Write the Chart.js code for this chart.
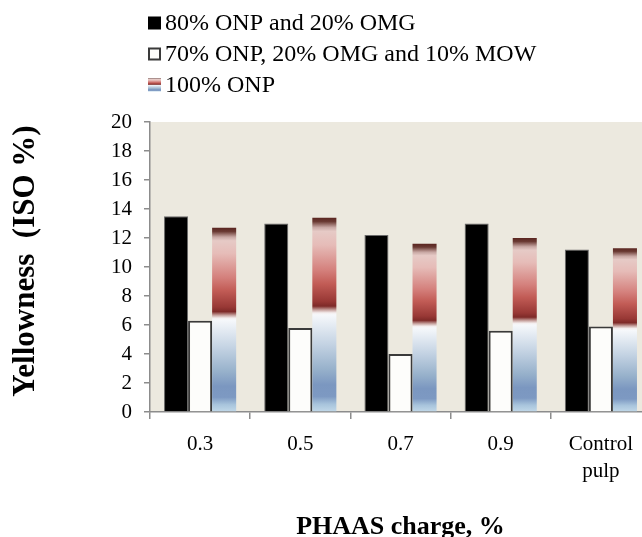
<!DOCTYPE html>
<html>
<head>
<meta charset="utf-8">
<script src="https://cdn.jsdelivr.net/npm/chart.js@4.4.1/dist/chart.umd.min.js"></script>
<style>
  html, body { margin: 0; padding: 0; background: #ffffff; overflow: hidden; }
  #wrap { width: 642px; height: 537px; overflow: hidden; position: relative; }
  canvas { display: block; }
</style>
</head>
<body>
<div id="wrap"><canvas id="chart" width="660" height="540"></canvas></div>
<script>
// PHAAS charge levels (last group is the untreated control)
const categories = ['0.3', '0.5', '0.7', '0.9', ['Control', 'pulp']];

// Yellowness (ISO %) per furnish
const onp80omg20 = [13.5, 13.0, 12.2, 13.0, 11.2];
const onp70omg20mow10 = [6.3, 5.8, 4.0, 5.6, 5.9];
const onp100 = [12.7, 13.4, 11.6, 12.0, 11.3];

const seriesLabels = ['80% ONP and 20% OMG', '70% ONP, 20% OMG and 10% MOW', '100% ONP'];
const yTicks = [0, 2, 4, 6, 8, 10, 12, 14, 16, 18, 20];
const yTitle = 'Yellowness  (ISO %)';
const xTitle = 'PHAAS charge, %';

const SERIF = "'Liberation Serif', 'Times New Roman', serif";

// red-over-blue fill used for the 100% ONP bars
const fireIceStops = [
  [0.00, '#5a2520'], [0.02, '#6a3a33'], [0.05, '#c8a8a4'], [0.07, '#e6cac6'],
  [0.14, '#e6bcb8'], [0.27, '#d4807c'], [0.34, '#c25c56'], [0.43, '#983835'],
  [0.455, '#7e2a28'], [0.475, '#c8a4a0'], [0.49, '#f4eeee'], [0.50, '#f6f8fb'],
  [0.65, '#c4d3e3'], [0.78, '#97b1cb'], [0.86, '#7b97c0'], [0.92, '#7d99c2'],
  [0.96, '#a8c4dc'], [1.00, '#c2d9e9']
];

function fireIce(ctx, top, bottom) {
  const g = ctx.createLinearGradient(0, top, 0, bottom);
  fireIceStops.forEach(([t, c]) => g.addColorStop(t, c));
  return g;
}

const plotBackground = {
  id: 'plotBackground',
  beforeDraw(chart) {
    const { ctx, chartArea: a } = chart;
    ctx.save();
    ctx.fillStyle = '#ECE9DF';
    ctx.fillRect(a.left, a.top, a.right - a.left, a.bottom - a.top);
    ctx.restore();
  }
};

// vertical value-axis title, placed a little above the plot's middle
const sideTitle = {
  id: 'sideTitle',
  afterDraw(chart) {
    const { ctx } = chart;
    ctx.save();
    ctx.translate(26, 261);
    ctx.rotate(-Math.PI / 2);
    ctx.font = 'bold 31px ' + SERIF;
    ctx.textAlign = 'center';
    ctx.textBaseline = 'middle';
    ctx.fillStyle = '#000';
    ctx.fillText(yTitle, 0, 0);
    ctx.restore();
  }
};

const stackedLegend = {
  id: 'stackedLegend',
  afterDraw(chart) {
    const { ctx } = chart;
    const x0 = 148, size = 13, rows = [23, 54, 85];
    ctx.save();
    ctx.font = '24px ' + SERIF;
    ctx.textBaseline = 'middle';
    chart.data.datasets.forEach((ds, i) => {
      const cy = rows[i];
      const top = cy - size / 2;
      if (i === 0) {
        ctx.fillStyle = '#000';
        ctx.fillRect(x0, top, size, size);
      } else if (i === 1) {
        ctx.fillStyle = '#fdfdfb';
        ctx.fillRect(x0, top, size, size);
        ctx.strokeStyle = '#3a3a3a';
        ctx.lineWidth = 2;
        ctx.strokeRect(x0 + 1, top + 1, size - 2, size - 2);
      } else {
        ctx.fillStyle = fireIce(ctx, top, top + size);
        ctx.fillRect(x0, top, size, size);
      }
      ctx.fillStyle = '#000';
      ctx.fillText(ds.label, x0 + 17, cy + 1);
    });
    ctx.restore();
  }
};

new Chart(document.getElementById('chart'), {
  type: 'bar',
  data: {
    labels: categories,
    datasets: [
      {
        label: seriesLabels[0],
        data: onp80omg20,
        backgroundColor: '#000000',
        borderColor: '#6a6a6a',
        borderWidth: 1,
        borderSkipped: 'bottom'
      },
      {
        label: seriesLabels[1],
        data: onp70omg20mow10,
        backgroundColor: '#fdfdfb',
        borderColor: '#3a3a3a',
        borderWidth: 2,
        borderSkipped: 'bottom'
      },
      {
        label: seriesLabels[2],
        data: onp100,
        borderWidth: 0,
        backgroundColor(c) {
          const chart = c.chart;
          const y = chart.scales && chart.scales.y;
          if (!y || c.raw === undefined) return '#c25c56';
          const top = y.getPixelForValue(c.raw);
          const base = y.getPixelForValue(0);
          if (!isFinite(top) || !isFinite(base) || top === base) return '#c25c56';
          return fireIce(chart.ctx, top, base);
        }
      }
    ]
  },
  options: {
    responsive: false,
    animation: false,
    events: [],
    layout: { padding: { top: 122, right: 9, left: 0, bottom: 0 } },
    datasets: { bar: { categoryPercentage: 0.72, barPercentage: 1.0 } },
    plugins: {
      legend: { display: false },
      tooltip: { enabled: false }
    },
    scales: {
      x: {
        afterFit(s) { s.height = 128; },
        grid: {
          display: true,
          offset: true,
          drawOnChartArea: false,
          drawTicks: true,
          tickLength: 7,
          color: '#8c8c8c',
          lineWidth: 1.5
        },
        border: { display: true, color: '#8c8c8c', width: 1.5 },
        ticks: {
          color: '#000',
          padding: 12,
          maxRotation: 0,
          font: { family: SERIF, size: 21, lineHeight: 1.3 }
        },
        title: {
          display: true,
          text: xTitle,
          color: '#000',
          padding: { top: 0, bottom: 0 },
          font: { family: SERIF, size: 26, weight: 'bold', lineHeight: 1.0 }
        }
      },
      y: {
        min: 0,
        max: 20,
        afterFit(s) { s.width = 150; },
        afterBuildTicks(s) { s.ticks = yTicks.map(v => ({ value: v })); },
        grid: {
          display: true,
          drawOnChartArea: false,
          drawTicks: true,
          tickLength: 6,
          color: '#8c8c8c',
          lineWidth: 1.5
        },
        border: { display: true, color: '#8c8c8c', width: 1.5 },
        ticks: {
          color: '#000',
          padding: 12,
          font: { family: SERIF, size: 21 }
        },
        title: { display: false }
      }
    }
  },
  plugins: [plotBackground, stackedLegend, sideTitle]
});
</script>
</body>
</html>
